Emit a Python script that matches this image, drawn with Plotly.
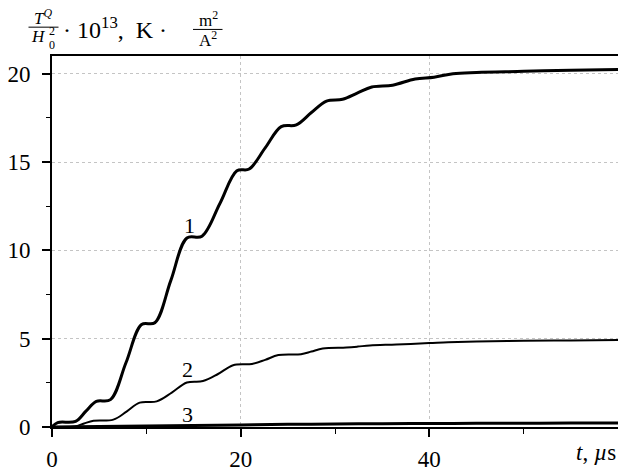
import plotly.graph_objects as go

# Time axis (microseconds) and curve values (T^Q/H0^2 * 1e13, K*m^2/A^2)
t1 = [0, 0.6, 2.5, 3.6, 4.7, 6.2, 7.85, 9.5, 10.9, 12.6, 14.3, 15.9, 17.8, 19.6,
      20.9, 22.6, 24.3, 25.9, 27.5, 29.1, 30.8, 32.35, 33.9, 36.1, 38.5, 40.5,
      42.5, 45, 50, 55, 60]
v1 = [0, 0.25, 0.32, 0.9, 1.45, 1.55, 3.65, 5.8, 5.9, 8.3, 10.7, 10.8, 12.65, 14.5,
      14.6, 15.8, 17.0, 17.1, 17.8, 18.45, 18.55, 18.9, 19.25, 19.35, 19.7, 19.8,
      20.0, 20.07, 20.13, 20.2, 20.24]

t2 = [0, 2.4, 3.4, 4.4, 6.5, 7.9, 9.3, 11.1, 12.7, 14.3, 16.0, 17.6, 19.2, 21.2,
      22.6, 24.0, 26.4, 27.5, 28.7, 31.2, 32.4, 33.7, 36.5, 40, 42, 45, 50, 55, 60]
v2 = [0, 0.03, 0.2, 0.35, 0.42, 0.87, 1.38, 1.45, 1.95, 2.52, 2.6, 3.0, 3.5, 3.57,
      3.8, 4.07, 4.12, 4.27, 4.44, 4.5, 4.55, 4.62, 4.67, 4.75, 4.8, 4.84, 4.88,
      4.9, 4.92]

t3 = [0, 5, 10, 15, 20, 25, 30, 35, 40, 45, 50, 55, 60]
v3 = [0, 0.03, 0.06, 0.09, 0.12, 0.15, 0.17, 0.19, 0.2, 0.21, 0.215, 0.22, 0.22]

curve_labels = ["1", "2", "3"]
label_pos = [(14.6, 11.4), (14.4, 3.25), (14.4, 0.68)]

x_ticks = [0, 20, 40]
x_minor = [10, 30, 50]
y_ticks = [0, 5, 10, 15, 20]
y_minor = [2.5, 7.5, 12.5, 17.5]

W, H = 618, 472
L, R, T, B = 52, 0, 56, 39
FONT = "Liberation Serif"


def px(x):
    return (x - L) / (W - L - R)


def py(y):
    return (H - B - y) / (H - T - B)


fig = go.Figure()
for t, v, w in ((t1, v1, 3), (t2, v2, 2), (t3, v3, 3)):
    fig.add_trace(go.Scatter(x=t, y=v, mode="lines",
                             line=dict(color="black", width=w, shape="spline", smoothing=1.0),
                             showlegend=False, hoverinfo="skip"))

for lab, (x, y) in zip(curve_labels, label_pos):
    fig.add_annotation(x=x, y=y, text=lab, showarrow=False,
                       font=dict(family=FONT, size=22, color="black"))

ann = []


def text(x, y, s, size, xanchor="center"):
    ann.append(dict(x=px(x), y=py(y), xref="paper", yref="paper", text=s,
                    showarrow=False, xanchor=xanchor, yanchor="middle",
                    font=dict(family=FONT, size=size, color="black")))


# y-axis title: fraction T^Q / H0^2, then multiplier and units
text(43, 16, "<i>T</i><sup><i>Q</i></sup>", 17)
text(38.5, 36.5, "<i>H</i>", 17)
text(51.5, 31, "2", 12)
text(51.5, 44.5, "0", 12)
text(61, 28, "· 10<sup>13</sup>,  K ·", 24, xanchor="left")
text(208, 18.5, "m<sup>2</sup>", 17)
text(208, 38.5, "A<sup>2</sup>", 17)
# x-axis title
text(618, 459, "<i>t</i>, <i>µ</i>s", 23, xanchor="right")

shapes = [
    dict(type="line", xref="paper", yref="paper", x0=px(28.5), x1=px(58.5),
         y0=py(26.7), y1=py(26.7), line=dict(color="black", width=1)),
    dict(type="line", xref="paper", yref="paper", x0=px(193), x1=px(222.5),
         y0=py(29), y1=py(29), line=dict(color="black", width=1)),
]

grid = dict(showgrid=True, gridcolor="#c4c4c4", griddash="dot", gridwidth=1)

fig.update_layout(
    width=W, height=H,
    margin=dict(l=L, r=R, t=T, b=B, pad=0),
    paper_bgcolor="white", plot_bgcolor="white",
    font=dict(family=FONT, size=23, color="black"),
    annotations=list(fig.layout.annotations) + ann,
    shapes=shapes,
    xaxis=dict(range=[0, 60], tickvals=x_ticks, ticktext=[str(v) for v in x_ticks],
               ticks="outside", ticklen=8, tickwidth=1.5, tickcolor="black",
               showline=True, linecolor="black", linewidth=2, mirror=True,
               zeroline=False, ticklabelstandoff=2,
               minor=dict(tickvals=x_minor, ticks="outside", ticklen=5,
                          tickwidth=1.2, tickcolor="black", showgrid=False),
               tickfont=dict(family=FONT, size=23), **grid),
    yaxis=dict(range=[0, 21], tickvals=y_ticks, ticktext=[str(v) for v in y_ticks],
               ticks="outside", ticklen=8, tickwidth=1.5, tickcolor="black",
               showline=True, linecolor="black", linewidth=2, mirror=False,
               zeroline=False, ticklabelstandoff=7,
               minor=dict(tickvals=y_minor, ticks="outside", ticklen=4,
                          tickwidth=1.2, tickcolor="black", showgrid=False),
               tickfont=dict(family=FONT, size=23), **grid),
)

fig.write_html("out.html")
